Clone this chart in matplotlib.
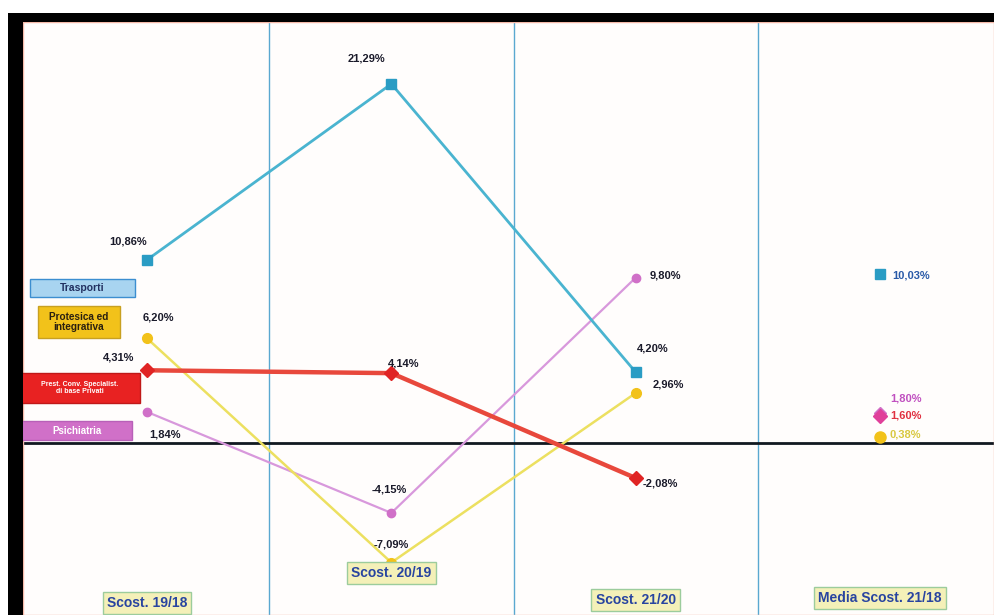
import matplotlib
matplotlib.use("Agg")
import matplotlib.pyplot as plt
from matplotlib.patches import Rectangle
import matplotlib.transforms as mtransforms

plt.rcParams['font.family'] = ['Liberation Sans', 'DejaVu Sans']

categories = ["Scost. 19/18", "Scost. 20/19", "Scost. 21/20", "Media Scost. 21/18"]
trasporti = [10.86, 21.29, 4.20]
trasporti_media = 10.03
protesica = [6.20, -7.09, 2.96]
protesica_media = 0.38
farm = [4.31, 4.14, -2.08]
farm_media = 1.60
psichiatria = [1.84, -4.15, 9.80]
psichiatria_media = 1.80
series_names = ["Trasporti", "Protesica ed\nintegrativa",
                "Prest. Conv. Specialist.\ndi base Privati", "Psichiatria"]

W, H = 994, 615
fig = plt.figure(figsize=(W / 100, H / 100), dpi=100)
fig.patch.set_facecolor("white")

# black frame
fig.add_artist(Rectangle((8 / W, 0), 15 / W, (H - 13) / H, transform=fig.transFigure,
                         facecolor="black", edgecolor="none", zorder=10))
fig.add_artist(Rectangle((8 / W, (H - 22) / H), (W - 8) / W, 9 / H, transform=fig.transFigure,
                         facecolor="black", edgecolor="none", zorder=10))

ax = fig.add_axes([23 / W, 0, (W - 23) / W, (H - 22) / H])
ax.set_facecolor("#fffdfc")
ax.set_xlim(-0.508, 3.467)
ax.set_ylim(-10.2, 24.96)
ax.set_xticks([])
ax.set_yticks([])
for s in ax.spines.values():
    s.set_color("#f4b8a8")
    s.set_linewidth(1.0)

for xv in [0.5, 1.5, 2.5]:
    ax.axvline(xv, color="#5aa8d0", lw=1.0, zorder=1)
ax.axhline(0, color="#101820", lw=2.0, zorder=2)

xs = [0, 1, 2]
blue_l, blue_m = "#4ab4d0", "#2a9cc4"
yel_l, yel_m = "#ece060", "#f2c21a"
red_l, red_m = "#e8483c", "#e02424"
pink_l, pink_m = "#d898dc", "#d070c8"

ax.plot(xs, trasporti, color=blue_l, lw=2.0, marker="s", ms=7, mfc=blue_m, mec=blue_m, zorder=5)
ax.plot(xs, protesica, color=yel_l, lw=1.8, marker="o", ms=7, mfc=yel_m, mec=yel_m, zorder=4)
ax.plot(xs, farm, color=red_l, lw=3.2, marker="D", ms=7, mfc=red_m, mec=red_m, zorder=6)
ax.plot(xs, psichiatria, color=pink_l, lw=1.6, marker="o", ms=6, mfc=pink_m, mec=pink_m, zorder=3)

ax.plot([3], [trasporti_media], marker="s", ms=7, color=blue_m, ls="none", zorder=5)
ax.plot([3], [protesica_media], marker="o", ms=8, color=yel_m, ls="none", zorder=4)
ax.plot([3], [psichiatria_media], marker="D", ms=6, color=pink_m, ls="none", zorder=5)
ax.plot([3], [farm_media], marker="D", ms=7, color="#e0409a", ls="none", zorder=6)


def fmt(v):
    return f"{v:.2f}%".replace(".", ",")


def lab(x, y, dx, dy, color="#1a1a2a", ha="center"):
    ax.annotate(fmt(y), (x, y), xytext=(dx * 0.72, -dy * 0.72), textcoords="offset points",
                ha=ha, va="center", fontsize=8, fontweight="bold", color=color, zorder=8)


# Trasporti labels
lab(0, trasporti[0], -19, -18)
lab(1, trasporti[1], -25, -25)
lab(2, trasporti[2], 17, -24)
lab(3, trasporti_media, 12, 2, color="#2a5aa8", ha="left")
# Protesica labels
lab(0, protesica[0], 11, -21)
lab(1, protesica[1], 0, -18)
lab(2, protesica[2], 33, -9)
lab(3, protesica_media, 10, -2, color="#d8c840", ha="left")
# Farm labels
lab(0, farm[0], -29, -13)
lab(1, farm[1], 12, -10)
lab(2, farm[2], 25, 5)
lab(3, farm_media, 10, 0, color="#e03040", ha="left")
# Psichiatria labels
lab(0, psichiatria[0], 18, 23)
lab(1, psichiatria[1], -2, -23)
lab(2, psichiatria[2], 30, -2)
lab(3, psichiatria_media, 10, -14, color="#c050c0", ha="left")

# series name boxes (axes fraction coordinates)
axw, axh = W - 23, H - 22


def namebox(x0, y0, x1, y1, fc, ec, text, tc, fs):
    ax.add_patch(Rectangle(((x0 - 23) / axw, (H - y1) / axh), (x1 - x0) / axw, (y1 - y0) / axh,
                           transform=ax.transAxes, facecolor=fc, edgecolor=ec, lw=1.0, zorder=9))
    ax.text(((x0 + x1) / 2 - 23) / axw, (H - (y0 + y1) / 2) / axh, text, transform=ax.transAxes,
            ha="center", va="center", fontsize=fs, fontweight="bold", color=tc, zorder=10,
            linespacing=1.05)


namebox(30, 279, 135, 297, "#a8d4f0", "#3c8ed0", series_names[0], "#223060", 7.5)
namebox(38, 306, 120, 338, "#f2c21a", "#c8a020", series_names[1], "#2a2010", 7.2)
namebox(20, 373, 140, 403, "#e82222", "#c01818", series_names[2], "white", 5.0)
namebox(22, 421, 132, 440, "#d070c8", "#b860b8", series_names[3], "white", 7.0)

# category labels inside the plot
trans = mtransforms.blended_transform_factory(ax.transData, ax.transAxes)
cat_y = [603, 573, 600, 598]
for i, (c, py) in enumerate(zip(categories, cat_y)):
    ax.text(i, (H - py) / axh, c, transform=trans, ha="center", va="center",
            fontsize=10, fontweight="bold", color="#2844a0", zorder=10,
            bbox=dict(boxstyle="square,pad=0.3", facecolor="#f4f0b8", edgecolor="#9ccc9c", lw=1.0))

fig.savefig("out.png", dpi=100)
